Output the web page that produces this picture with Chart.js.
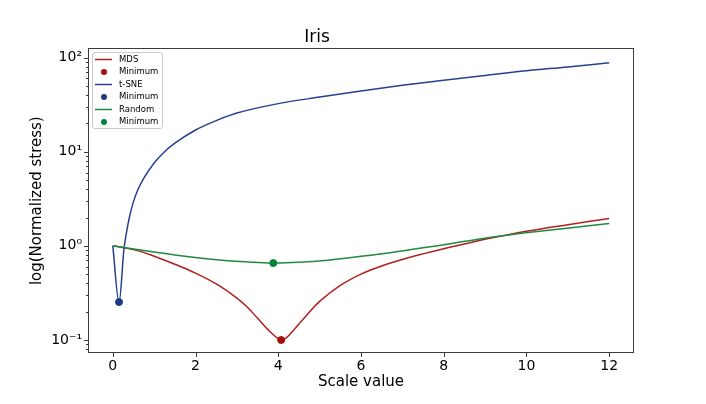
<!DOCTYPE html>
<html>
<head>
<meta charset="utf-8">
<title>Iris</title>
<script src="https://cdn.jsdelivr.net/npm/chart.js@4.4.1/dist/chart.umd.min.js"></script>
<style>
    html, body { margin: 0; padding: 0; background: #ffffff; }
    canvas { display: block; }
</style>
</head>
<body>
<canvas id="stressChart" width="706" height="404"></canvas>
<script>
/* Data */
const mdsX = [0, 0.3, 0.6, 1.0, 1.5, 2.0, 2.5, 3.0, 3.25, 3.5, 3.75, 3.95, 4.07, 4.2, 4.4, 4.65, 5.0, 5.5, 6.0, 6.5, 7.0, 7.5, 8.0, 8.5, 9.0, 10, 11, 12]
const mdsY = [1.0, 0.95, 0.89, 0.776, 0.638, 0.513, 0.394, 0.279, 0.224, 0.170, 0.129, 0.107, 0.100, 0.106, 0.132, 0.176, 0.257, 0.380, 0.501, 0.610, 0.716, 0.822, 0.933, 1.047, 1.175, 1.43, 1.68, 1.95]

const tsneX = [0, 0.15, 0.27, 0.33, 0.4, 0.5, 0.6, 0.75, 1.0, 1.25, 1.5, 2.0, 2.5, 3.0, 4.0, 5.0, 6.0, 7.0, 8.0, 9.0, 10, 11, 12]
const tsneY = [1.0, 0.25, 0.93, 1.38, 2.0, 2.95, 3.9, 5.25, 7.6, 10.0, 12.3, 17.0, 21.4, 25.7, 32.4, 38.0, 44.2, 50.7, 57.5, 64.6, 72.4, 79.4, 88]

const randomX = [0, 0.5, 1.0, 1.5, 2.2, 2.7, 3.2, 3.88, 4.5, 5.2, 5.9, 6.7, 7.5, 8.2, 8.8, 9.7, 10.7, 12]
const randomY = [1.0, 0.927, 0.861, 0.80, 0.735, 0.70, 0.676, 0.656, 0.668, 0.705, 0.764, 0.845, 0.953, 1.06, 1.17, 1.33, 1.49, 1.73]

const mdsMin = [4.07, 0.100]
const tsneMin = [0.15, 0.253]
const randomMin = [3.88, 0.656]

const xTicks = [0, 2, 4, 6, 8, 10, 12]
const yTicks = [0.1, 1, 10, 100]
const yTickLabels = ['10⁻¹', '10⁰', '10¹', '10²']

const FONT = '"DejaVu Sans", "Liberation Sans", sans-serif'

const toPoints = (xs, ys) => xs.map((x, i) => ({ x: x, y: ys[i] }))


/* Line + minimum dataset helpers */
const lineSet = (label, points, color, order, mode) => ({
    label: label,
    data: points,
    borderColor: color,
    backgroundColor: color,
    borderWidth: 1.5,
    pointRadius: 0,
    cubicInterpolationMode: mode,
    tension: 0.4,
    order: order
})

const minSet = (point, color, order) => ({
    label: 'Minimum',
    data: [{ x: point[0], y: point[1] }],
    showLine: false,
    pointRadius: 3.5,
    pointBackgroundColor: color,
    pointBorderColor: color,
    backgroundColor: color,
    borderColor: color,
    order: order
})


/* Frame and tick marks like matplotlib spines */
const frameAndTicks = {
    id: 'frameAndTicks',
    afterDatasetsDraw(chart) {
        const { ctx, chartArea: a, scales: { x, y } } = chart
        const tick = (x1, y1, x2, y2) => {
            ctx.beginPath()
            ctx.moveTo(x1, y1)
            ctx.lineTo(x2, y2)
            ctx.stroke()
        }
        ctx.save()
        ctx.strokeStyle = '#3c3c3c'
        ctx.lineWidth = 1
        ctx.strokeRect(Math.round(a.left) + 0.5, Math.round(a.top) + 0.5,
            Math.round(a.width) - 1, Math.round(a.height) - 1)

        xTicks.forEach(v => {
            const px = Math.round(x.getPixelForValue(v)) + 0.5
            tick(px, a.bottom, px, a.bottom + 4)
        })
        yTicks.forEach(v => {
            const py = Math.round(y.getPixelForValue(v)) + 0.5
            tick(a.left - 4, py, a.left, py)
        })
        // minor ticks on the log axis
        for (let e = -2; e <= 2; e++) {
            for (let m = 2; m <= 9; m++) {
                const v = m * Math.pow(10, e)
                if (v < y.min || v > y.max) continue
                const py = Math.round(y.getPixelForValue(v)) + 0.5
                tick(a.left - 2, py, a.left, py)
            }
        }
        ctx.restore()
    }
}


/* Legend box in the upper left corner of the plot */
const boxLegend = {
    id: 'boxLegend',
    afterDraw(chart) {
        const { ctx, chartArea: a } = chart
        const sets = chart.data.datasets
        const left = Math.round(a.left) + 4
        const top = Math.round(a.top) + 4
        const rowH = 12.5
        const w = 70
        const h = (sets.length - 1) * rowH + 13.5

        ctx.save()
        ctx.fillStyle = 'rgba(255, 255, 255, 0.8)'
        ctx.strokeStyle = '#cccccc'
        ctx.lineWidth = 1
        ctx.beginPath()
        ctx.roundRect(left + 0.5, top + 0.5, w, h, 2.5)
        ctx.fill()
        ctx.stroke()

        ctx.font = '8.5px ' + FONT
        ctx.textBaseline = 'middle'
        ctx.textAlign = 'left'
        sets.forEach((ds, i) => {
            const cy = top + 7.5 + i * rowH
            if (ds.showLine === false) {
                ctx.fillStyle = ds.pointBackgroundColor
                ctx.beginPath()
                ctx.arc(left + 12, cy, 3, 0, Math.PI * 2)
                ctx.fill()
            } else {
                ctx.strokeStyle = ds.borderColor
                ctx.lineWidth = 1.5
                ctx.beginPath()
                ctx.moveTo(left + 3, cy)
                ctx.lineTo(left + 20, cy)
                ctx.stroke()
            }
            ctx.fillStyle = '#000000'
            ctx.fillText(ds.label, left + 27, cy)
        })
        ctx.restore()
    }
}


const stressChart = new Chart(document.getElementById('stressChart'), {
    type: 'line',
    data: {
        datasets: [
            lineSet('MDS', toPoints(mdsX, mdsY), '#b21f1f', 6, 'default'),
            minSet(mdsMin, '#a50f0f', 5),
            lineSet('t-SNE', toPoints(tsneX, tsneY), '#26408f', 4, 'monotone'),
            minSet(tsneMin, '#1f3a8a', 3),
            lineSet('Random', toPoints(randomX, randomY), '#1f8a3e', 2, 'default'),
            minSet(randomMin, '#00843d', 1)
        ]
    },
    options: {
        responsive: false,
        animation: false,
        devicePixelRatio: 1,
        layout: {
            padding: { left: 0, right: 72, top: 0, bottom: 0 }
        },
        plugins: {
            legend: { display: false },
            tooltip: { enabled: false },
            title: {
                display: true,
                text: 'Iris',
                color: '#000000',
                font: { family: FONT, size: 17, weight: 'normal' },
                padding: { top: 27, bottom: 1 }
            }
        },
        scales: {
            x: {
                type: 'linear',
                min: -0.6,
                max: 12.6,
                afterBuildTicks: scale => {
                    scale.ticks = xTicks.map(v => ({ value: v }))
                },
                afterFit: scale => {
                    scale.height = 51
                },
                grid: { display: false, drawTicks: false },
                border: { display: false },
                ticks: {
                    color: '#000000',
                    font: { family: FONT, size: 14 },
                    padding: 5,
                    maxRotation: 0,
                    autoSkip: false
                },
                title: {
                    display: true,
                    text: 'Scale value',
                    color: '#000000',
                    font: { family: FONT, size: 15 },
                    padding: { top: 0, bottom: 13 }
                }
            },
            y: {
                type: 'logarithmic',
                min: 0.0728,
                max: 125,
                afterBuildTicks: scale => {
                    scale.ticks = yTicks.map(v => ({ value: v }))
                },
                afterFit: scale => {
                    scale.width = 88
                },
                grid: { display: false, drawTicks: false },
                border: { display: false },
                ticks: {
                    color: '#000000',
                    font: { family: FONT, size: 14 },
                    padding: 6,
                    autoSkip: false,
                    callback: value => yTickLabels[yTicks.indexOf(value)]
                },
                title: {
                    display: true,
                    text: 'log(Normalized stress)',
                    color: '#000000',
                    font: { family: FONT, size: 15 },
                    padding: { top: 28, bottom: 0 }
                }
            }
        }
    },
    plugins: [frameAndTicks, boxLegend]
})
</script>
</body>
</html>
